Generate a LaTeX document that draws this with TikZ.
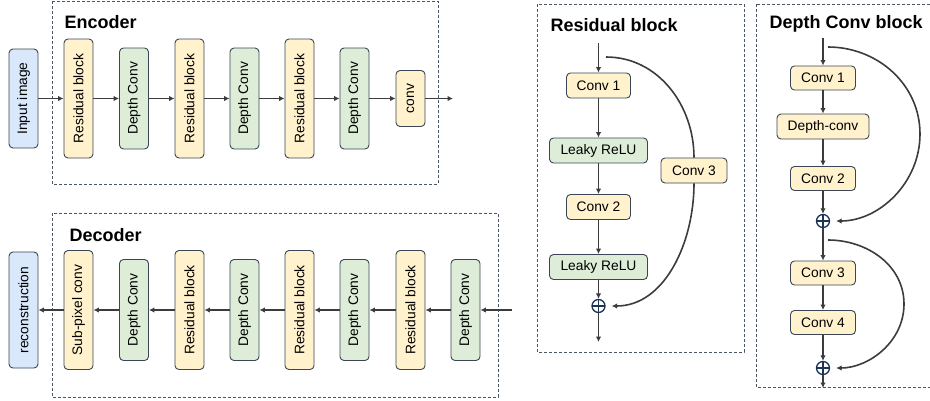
\documentclass[tikz,border=0pt]{standalone}
\usepackage{fontspec}
\setmainfont{Liberation Sans}
\usetikzlibrary{arrows.meta,positioning}

\definecolor{boxline}{HTML}{3A4656}
\definecolor{yelfill}{HTML}{FFF2CC}
\definecolor{grnfill}{HTML}{DDEDD8}
\definecolor{blufill}{HTML}{DAE8FC}
\definecolor{arrcol}{HTML}{3C3C3C}
\definecolor{panelcol}{HTML}{4A5566}
\definecolor{addcol}{HTML}{1C3557}

\tikzset{
  blk/.style={draw=boxline, rounded corners=4pt, line width=0.9pt, inner sep=0pt,
    font=\fontsize{13.8}{16}\selectfont},
  flow/.style={draw=arrcol, line width=1.6pt, -{Latex[length=5.5pt,width=5.5pt]}},
  skipline/.style={draw=arrcol, line width=1.6pt},
  panel/.style={draw=panelcol, dash pattern=on 3pt off 2pt, line width=0.9pt},
  ttl/.style={anchor=west, font=\bfseries\fontsize{18}{20}\selectfont},
  addop/.style={circle, draw=addcol, line width=1.3pt, minimum size=13pt, inner sep=0pt,
    path picture={\draw[addcol, line width=1.3pt]
      (path picture bounding box.north) -- (path picture bounding box.south)
      (path picture bounding box.west) -- (path picture bounding box.east);}}
}

\begin{document}
\begin{tikzpicture}[x=1pt, y=-1pt]
    \useasboundingbox (0,0) rectangle (930,400);
    \clip (0,0) rectangle (930,400);

    % dashed panels
    \draw[panel] (52,1) rectangle (438,184);
    \draw[panel] (52,213) rectangle (498,397);
    \draw[panel] (537,4) rectangle (744,352);
    \draw[panel] (756,4) rectangle (940,387);
    \node[ttl] (enctitle) at (61,22) {Encoder};
    \node[ttl] (dectitle) at (66,235) {Decoder};
    \node[ttl] (restitle) at (547,25) {Residual block};
    \node[ttl] (dctitle) at (766,24) {Depth Conv block};

    % encoder chain
    \node[blk, fill=blufill, minimum width=29pt, minimum height=99pt] (inimg)
      at (23.5,98.5) {\rotatebox{90}{Input image}};
    \foreach \name/\xc/\txt/\fc/\h in {enc1/78.5/Residual block/yelfill/119,
        enc2/134/Depth Conv/grnfill/101, enc3/189.5/Residual block/yelfill/119,
        enc4/244.5/Depth Conv/grnfill/101, enc5/299.5/Residual block/yelfill/119,
        enc6/354.5/Depth Conv/grnfill/101, enc7/410.5/conv/yelfill/56}
      \node[blk, fill=\fc, minimum width=29pt, minimum height=\h pt] (\name)
        at (\xc,98.5) {\rotatebox{90}{\txt}};
    \coordinate (encout) at (453,98.5);
    \foreach \a/\b in {inimg/enc1, enc1/enc2, enc2/enc3, enc3/enc4,
        enc4/enc5, enc5/enc6, enc6/enc7, enc7/encout}
      \draw[flow] (\a) -- (\b);

    % decoder chain
    \node[blk, fill=blufill, minimum width=29pt, minimum height=116pt] (recon)
      at (23.5,310) {\rotatebox{90}{reconstruction}};
    \foreach \name/\xc/\txt/\fc/\h in {dec1/78.5/Sub-pixel conv/yelfill/119,
        dec2/134/Depth Conv/grnfill/101, dec3/189.5/Residual block/yelfill/119,
        dec4/244.5/Depth Conv/grnfill/101, dec5/299.5/Residual block/yelfill/119,
        dec6/354.5/Depth Conv/grnfill/101, dec7/410.5/Residual block/yelfill/119,
        dec8/465.5/Depth Conv/grnfill/101}
      \node[blk, fill=\fc, minimum width=29pt, minimum height=\h pt] (\name)
        at (\xc,310) {\rotatebox{90}{\txt}};
    \coordinate (decin) at (512,310);
    \foreach \a/\b in {decin/dec8, dec8/dec7, dec7/dec6, dec6/dec5, dec5/dec4,
        dec4/dec3, dec3/dec2, dec2/dec1, dec1/recon}
      \draw[flow] (\a) -- (\b);

    % residual block
    \coordinate (rtop) at (598.5,43);
    \coordinate (rskip) at (606,57);
    \node[blk, fill=yelfill, minimum width=64pt, minimum height=25pt] (rconv1) at (598.5,85.5) {Conv 1};
    \node[blk, fill=grnfill, minimum width=98pt, minimum height=25pt] (rrelu1) at (598.5,150.5) {Leaky ReLU};
    \node[blk, fill=yelfill, minimum width=64pt, minimum height=25pt] (rconv2) at (598.5,207) {Conv 2};
    \node[blk, fill=grnfill, minimum width=98pt, minimum height=25pt] (rrelu2) at (598.5,267) {Leaky ReLU};
    \node[addop] (radd) at (598.5,306) {};
    \coordinate (rout) at (598.5,342);
    \node[blk, fill=yelfill, minimum width=66pt, minimum height=25pt] (rconv3) at (694,170.5) {Conv 3};
    \foreach \a/\b in {rtop/rconv1, rconv1/rrelu1, rrelu1/rconv2, rconv2/rrelu2,
        rrelu2/radd, radd/rout}
      \draw[flow] (\a) -- (\b);
    \draw[skipline] (rskip) to[out=0,in=90] (rconv3.north);
    \draw[flow, shorten >=6pt] (rconv3.south) to[out=-90,in=0] (radd.east);

    % depth conv block
    \coordinate (dtop) at (823,38);
    \coordinate (dskip1) at (828,47);
    \node[blk, fill=yelfill, minimum width=65pt, minimum height=24pt] (dconv1) at (823,78) {Conv 1};
    \node[blk, fill=yelfill, minimum width=92pt, minimum height=25pt] (ddepth) at (823,126.5) {Depth-conv};
    \node[blk, fill=yelfill, minimum width=65pt, minimum height=24pt] (dconv2) at (823,178.5) {Conv 2};
    \node[addop] (dadd1) at (823,221) {};
    \coordinate (dskip2) at (828,240);
    \node[blk, fill=yelfill, minimum width=65pt, minimum height=24pt] (dconv3) at (823,273) {Conv 3};
    \node[blk, fill=yelfill, minimum width=65pt, minimum height=24pt] (dconv4) at (823,322.5) {Conv 4};
    \node[addop] (dadd2) at (823,368) {};
    \coordinate (dout) at (823,388);
    \foreach \a/\b in {dtop/dconv1, dconv1/ddepth, ddepth/dconv2, dconv2/dadd1,
        dadd1/dconv3, dconv3/dconv4, dconv4/dadd2, dadd2/dout}
      \draw[flow] (\a) -- (\b);
    \draw[flow, shorten >=6pt] (dskip1) to[out=0,in=90] (920,134) to[out=-90,in=0] (dadd1.east);
    \draw[flow, shorten >=6pt] (dskip2) to[out=0,in=90] (904,304) to[out=-90,in=0] (dadd2.east);
\end{tikzpicture}
\end{document}
